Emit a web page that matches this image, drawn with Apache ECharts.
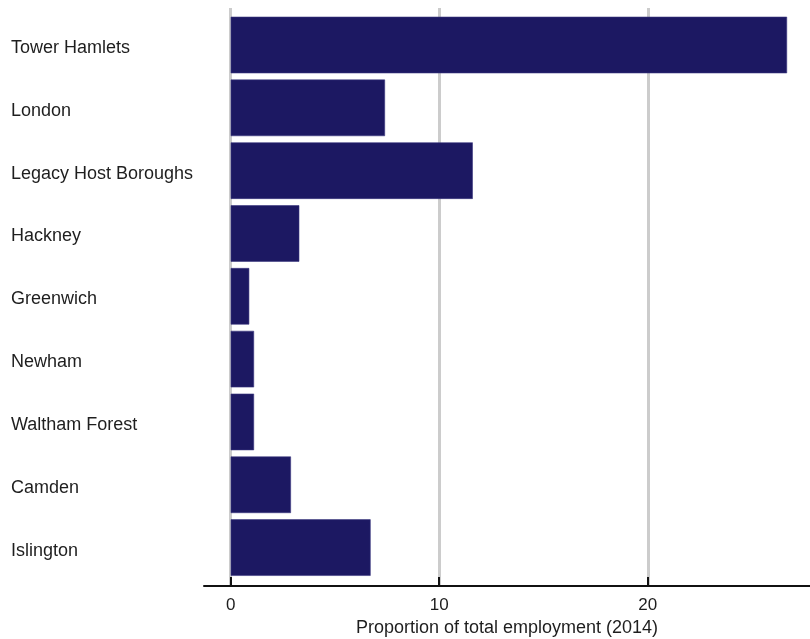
<!DOCTYPE html>
<html>
<head>
<meta charset="utf-8">
<script src="https://cdn.jsdelivr.net/npm/echarts@6/dist/echarts.min.js"></script>
<style>html,body{margin:0;padding:0;background:#fff}#c{width:810px;height:639px}</style>
</head>
<body>
<div id="c"></div>
<script>
var categories = ['Tower Hamlets','London','Legacy Host Boroughs','Hackney','Greenwich','Newham','Waltham Forest','Camden','Islington'];
var values = [26.68, 7.40, 11.61, 3.29, 0.89, 1.12, 1.12, 2.89, 6.71];
var tickValues = [0, 10, 20];
var axisTitle = 'Proportion of total employment (2014)';

var xMin = -1.28, xMax = 27.78;
var font = 'Liberation Sans, Arial, sans-serif';
var chart = echarts.init(document.getElementById('c'));
chart.setOption({
  animation: false,
  backgroundColor: '#fff',
  grid: [
    {left: 204, right: 0, top: 8, bottom: 53, outerBoundsMode: 'none', containLabel: false},
    {left: 204, right: 0, top: 13.6, bottom: 60, outerBoundsMode: 'none', containLabel: false}
  ],
  xAxis: [
    {
      gridIndex: 0, type: 'value', min: xMin, max: xMax, z: 20,
      name: axisTitle, nameLocation: 'middle', nameGap: 31,
      nameTextStyle: {fontFamily: font, fontSize: 18, color: '#1e1e1e'},
      axisLine: {show: true, lineStyle: {color: '#111', width: 2}},
      axisTick: {show: true, inside: true, length: 9, customValues: tickValues, lineStyle: {color: '#111', width: 2}},
      axisLabel: {customValues: tickValues, margin: 11, fontFamily: font, fontSize: 17, color: '#1e1e1e'},
      splitLine: {show: false}
    },
    {
      gridIndex: 1, type: 'value', min: xMin, max: xMax, show: false
    }
  ],
  yAxis: [
    {gridIndex: 0, type: 'value', min: 0, max: 1, show: false},
    {
      gridIndex: 1, type: 'category', data: categories, inverse: true,
      axisLine: {show: false}, axisTick: {show: false},
      axisLabel: {align: 'left', verticalAlign: 'top', lineHeight: 6, margin: 193, fontFamily: font, fontSize: 18, color: '#1e1e1e'}
    }
  ],
  series: [
    {
      type: 'line', xAxisIndex: 0, yAxisIndex: 0, data: [], z: 1,
      markLine: {
        silent: true, symbol: 'none', label: {show: false}, z: 1,
        lineStyle: {color: '#cccccc', width: 3, type: 'solid'},
        data: tickValues.map(function(v){ return {xAxis: v}; })
      }
    },
    {
      type: 'bar', xAxisIndex: 1, yAxisIndex: 1, data: values,
      barWidth: '90%',
      itemStyle: {color: '#1c1862', borderColor: '#3a3780', borderWidth: 0.6},
      z: 10
    }
  ]
});
</script>
</body>
</html>
